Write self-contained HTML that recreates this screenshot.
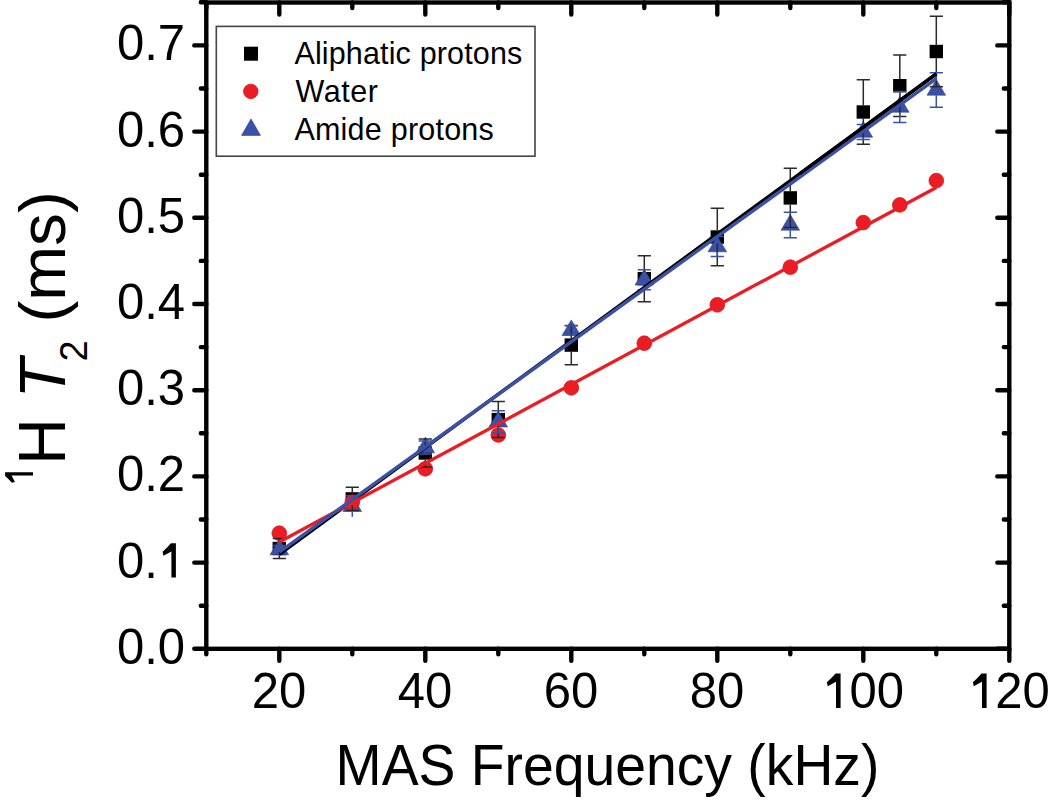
<!DOCTYPE html>
<html><head><meta charset="utf-8"><title>1H T2 vs MAS frequency</title>
<style>html,body{margin:0;padding:0;background:#fff;width:1050px;height:803px;overflow:hidden}
body{position:relative;font-family:"Liberation Sans",sans-serif}</style></head>
<body>
<svg width="1050" height="803" viewBox="0 0 1050 803" style="position:absolute;left:0;top:0">
<rect x="272.60" y="541.80" width="13.4" height="13.4" fill="#000"/>
<rect x="345.60" y="492.20" width="13.4" height="13.4" fill="#000"/>
<rect x="418.60" y="446.30" width="13.4" height="13.4" fill="#000"/>
<rect x="491.60" y="412.90" width="13.4" height="13.4" fill="#000"/>
<rect x="564.60" y="338.40" width="13.4" height="13.4" fill="#000"/>
<rect x="637.60" y="272.00" width="13.4" height="13.4" fill="#000"/>
<rect x="710.60" y="230.30" width="13.4" height="13.4" fill="#000"/>
<rect x="783.60" y="191.20" width="13.4" height="13.4" fill="#000"/>
<rect x="856.60" y="105.30" width="13.4" height="13.4" fill="#000"/>
<rect x="893.10" y="79.00" width="13.4" height="13.4" fill="#000"/>
<rect x="929.60" y="44.80" width="13.4" height="13.4" fill="#000"/>
<polygon points="279.30,539.20 288.60,554.80 270.00,554.80" fill="#3b51a6" stroke="#2c3f8f" stroke-width="0.6"/>
<polygon points="352.30,495.90 361.60,511.50 343.00,511.50" fill="#3b51a6" stroke="#2c3f8f" stroke-width="0.6"/>
<polygon points="425.30,437.20 434.60,452.80 416.00,452.80" fill="#3b51a6" stroke="#2c3f8f" stroke-width="0.6"/>
<polygon points="498.30,411.40 507.60,427.00 489.00,427.00" fill="#3b51a6" stroke="#2c3f8f" stroke-width="0.6"/>
<polygon points="571.30,319.90 580.60,335.50 562.00,335.50" fill="#3b51a6" stroke="#2c3f8f" stroke-width="0.6"/>
<polygon points="644.30,269.40 653.60,285.00 635.00,285.00" fill="#3b51a6" stroke="#2c3f8f" stroke-width="0.6"/>
<polygon points="717.30,236.20 726.60,251.80 708.00,251.80" fill="#3b51a6" stroke="#2c3f8f" stroke-width="0.6"/>
<polygon points="790.30,214.60 799.60,230.20 781.00,230.20" fill="#3b51a6" stroke="#2c3f8f" stroke-width="0.6"/>
<polygon points="863.30,121.60 872.60,137.20 854.00,137.20" fill="#3b51a6" stroke="#2c3f8f" stroke-width="0.6"/>
<polygon points="899.80,96.60 909.10,112.20 890.50,112.20" fill="#3b51a6" stroke="#2c3f8f" stroke-width="0.6"/>
<polygon points="936.30,79.60 945.60,95.20 927.00,95.20" fill="#3b51a6" stroke="#2c3f8f" stroke-width="0.6"/>
<circle cx="279.30" cy="533.20" r="7.35" fill="#ec1c24" stroke="#d2161e" stroke-width="0.8"/>
<circle cx="352.30" cy="502.10" r="7.35" fill="#ec1c24" stroke="#d2161e" stroke-width="0.8"/>
<circle cx="425.30" cy="468.80" r="7.35" fill="#ec1c24" stroke="#d2161e" stroke-width="0.8"/>
<circle cx="498.30" cy="435.00" r="7.35" fill="#ec1c24" stroke="#d2161e" stroke-width="0.8"/>
<circle cx="571.30" cy="387.80" r="7.35" fill="#ec1c24" stroke="#d2161e" stroke-width="0.8"/>
<circle cx="644.30" cy="343.20" r="7.35" fill="#ec1c24" stroke="#d2161e" stroke-width="0.8"/>
<circle cx="717.30" cy="304.80" r="7.35" fill="#ec1c24" stroke="#d2161e" stroke-width="0.8"/>
<circle cx="790.30" cy="267.20" r="7.35" fill="#ec1c24" stroke="#d2161e" stroke-width="0.8"/>
<circle cx="863.30" cy="222.60" r="7.35" fill="#ec1c24" stroke="#d2161e" stroke-width="0.8"/>
<circle cx="899.80" cy="204.90" r="7.35" fill="#ec1c24" stroke="#d2161e" stroke-width="0.8"/>
<circle cx="936.30" cy="180.60" r="7.35" fill="#ec1c24" stroke="#d2161e" stroke-width="0.8"/>
<path d="M272.70,538.50H285.90M272.70,558.50H285.90M279.30,541.80V538.50M279.30,555.20V558.50" stroke="#2a2a2a" stroke-width="1.5" fill="none"/>
<path d="M345.70,487.30H358.90M345.70,510.50H358.90M352.30,492.20V487.30M352.30,505.60V510.50" stroke="#2a2a2a" stroke-width="1.5" fill="none"/>
<path d="M418.70,439.00H431.90M418.70,467.00H431.90M425.30,446.30V439.00M425.30,459.70V467.00" stroke="#2a2a2a" stroke-width="1.5" fill="none"/>
<path d="M491.70,401.60H504.90M491.70,437.60H504.90M498.30,412.90V401.60M498.30,426.30V437.60" stroke="#2a2a2a" stroke-width="1.5" fill="none"/>
<path d="M564.70,325.40H577.90M564.70,364.80H577.90M571.30,338.40V325.40M571.30,351.80V364.80" stroke="#2a2a2a" stroke-width="1.5" fill="none"/>
<path d="M637.70,255.70H650.90M637.70,301.70H650.90M644.30,272.00V255.70M644.30,285.40V301.70" stroke="#2a2a2a" stroke-width="1.5" fill="none"/>
<path d="M710.70,208.30H723.90M710.70,265.70H723.90M717.30,230.30V208.30M717.30,243.70V265.70" stroke="#2a2a2a" stroke-width="1.5" fill="none"/>
<path d="M783.70,168.30H796.90M783.70,227.50H796.90M790.30,191.20V168.30M790.30,204.60V227.50" stroke="#2a2a2a" stroke-width="1.5" fill="none"/>
<path d="M856.70,79.80H869.90M856.70,144.20H869.90M863.30,105.30V79.80M863.30,118.70V144.20" stroke="#2a2a2a" stroke-width="1.5" fill="none"/>
<path d="M893.20,55.00H906.40M893.20,116.40H906.40M899.80,79.00V55.00M899.80,92.40V116.40" stroke="#2a2a2a" stroke-width="1.5" fill="none"/>
<path d="M929.70,16.20H942.90M929.70,86.80H942.90M936.30,44.80V16.20M936.30,58.20V86.80" stroke="#2a2a2a" stroke-width="1.5" fill="none"/>
<path d="M272.70,545.60H285.90M272.70,553.60H285.90" stroke="#3b51a6" stroke-width="1.5" fill="none"/>
<path d="M345.70,495.80H358.90M352.30,495.90V495.80M352.30,511.50V516.80" stroke="#3b51a6" stroke-width="1.5" fill="none"/>
<path d="M418.70,441.10H431.90M418.70,454.10H431.90M425.30,452.80V454.10" stroke="#3b51a6" stroke-width="1.5" fill="none"/>
<path d="M491.70,410.80H504.90M491.70,432.80H504.90M498.30,411.40V410.80M498.30,427.00V432.80" stroke="#3b51a6" stroke-width="1.5" fill="none"/>
<path d="M564.70,325.80H577.90M564.70,334.80H577.90" stroke="#3b51a6" stroke-width="1.5" fill="none"/>
<path d="M637.70,269.80H650.90M637.70,289.80H650.90M644.30,285.00V289.80" stroke="#3b51a6" stroke-width="1.5" fill="none"/>
<path d="M710.70,236.60H723.90M710.70,256.60H723.90M717.30,251.80V256.60" stroke="#3b51a6" stroke-width="1.5" fill="none"/>
<path d="M783.70,212.20H796.90M783.70,237.80H796.90M790.30,214.60V212.20M790.30,230.20V237.80" stroke="#3b51a6" stroke-width="1.5" fill="none"/>
<path d="M856.70,124.40H869.90M856.70,139.60H869.90M863.30,137.20V139.60" stroke="#3b51a6" stroke-width="1.5" fill="none"/>
<path d="M893.20,91.50H906.40M893.20,122.50H906.40M899.80,96.60V91.50M899.80,112.20V122.50" stroke="#3b51a6" stroke-width="1.5" fill="none"/>
<path d="M929.70,72.70H942.90M929.70,107.30H942.90M936.30,79.60V72.70M936.30,95.20V107.30" stroke="#3b51a6" stroke-width="1.5" fill="none"/>
<line x1="279.30" y1="554.4" x2="936.30" y2="73.8" stroke="#000" stroke-width="3.4"/>
<line x1="279.30" y1="542.0" x2="936.30" y2="187.5" stroke="#ec1c24" stroke-width="3.3"/>
<line x1="279.30" y1="552.1" x2="936.30" y2="78.7" stroke="#3b51a6" stroke-width="3.4"/>
<line x1="800.00" y1="173.50" x2="936.30" y2="73.80" stroke="#000" stroke-width="3.4"/>
<rect x="206.30" y="2.50" width="803.00" height="646.30" fill="none" stroke="#000" stroke-width="4.4"/>
<path d="M194.30,648.80H206.30M1009.30,648.80H997.30M200.80,605.70H206.30M1009.30,605.70H1003.80M194.30,562.60H206.30M1009.30,562.60H997.30M200.80,519.50H206.30M1009.30,519.50H1003.80M194.30,476.40H206.30M1009.30,476.40H997.30M200.80,433.30H206.30M1009.30,433.30H1003.80M194.30,390.20H206.30M1009.30,390.20H997.30M200.80,347.10H206.30M1009.30,347.10H1003.80M194.30,304.00H206.30M1009.30,304.00H997.30M200.80,260.90H206.30M1009.30,260.90H1003.80M194.30,217.80H206.30M1009.30,217.80H997.30M200.80,174.70H206.30M1009.30,174.70H1003.80M194.30,131.60H206.30M1009.30,131.60H997.30M200.80,88.50H206.30M1009.30,88.50H1003.80M194.30,45.40H206.30M1009.30,45.40H997.30M200.80,2.30H206.30M1009.30,2.30H1003.80M206.30,648.80V654.30M206.30,2.50V8.00M279.30,648.80V660.80M279.30,2.50V14.50M352.30,648.80V654.30M352.30,2.50V8.00M425.30,648.80V660.80M425.30,2.50V14.50M498.30,648.80V654.30M498.30,2.50V8.00M571.30,648.80V660.80M571.30,2.50V14.50M644.30,648.80V654.30M644.30,2.50V8.00M717.30,648.80V660.80M717.30,2.50V14.50M790.30,648.80V654.30M790.30,2.50V8.00M863.30,648.80V660.80M863.30,2.50V14.50M936.30,648.80V654.30M936.30,2.50V8.00M1009.30,648.80V660.80M1009.30,2.50V14.50" stroke="#000" stroke-width="4.4" stroke-linecap="round" fill="none"/>
<text transform="translate(185,663.80) scale(1,1.02)" font-family="Liberation Sans, sans-serif" font-size="49" text-anchor="end">0.0</text>
<text transform="translate(116.9,577.60) scale(1,1.02)" font-family="Liberation Sans, sans-serif" font-size="49">0.</text>
<path transform="translate(175.90,543.20)" d="M0,0V34.40H-4.50V8.20L-12.50,12.50L-13.30,8.60Q-9.30,5.00 -4.90,0Z" fill="#000"/>
<text transform="translate(185,491.40) scale(1,1.02)" font-family="Liberation Sans, sans-serif" font-size="49" text-anchor="end">0.2</text>
<text transform="translate(185,405.20) scale(1,1.02)" font-family="Liberation Sans, sans-serif" font-size="49" text-anchor="end">0.3</text>
<text transform="translate(185,319.00) scale(1,1.02)" font-family="Liberation Sans, sans-serif" font-size="49" text-anchor="end">0.4</text>
<text transform="translate(185,232.80) scale(1,1.02)" font-family="Liberation Sans, sans-serif" font-size="49" text-anchor="end">0.5</text>
<text transform="translate(185,146.60) scale(1,1.02)" font-family="Liberation Sans, sans-serif" font-size="49" text-anchor="end">0.6</text>
<text transform="translate(185,60.40) scale(1,1.02)" font-family="Liberation Sans, sans-serif" font-size="49" text-anchor="end">0.7</text>
<text transform="translate(279.00,708) scale(1,1.02)" font-family="Liberation Sans, sans-serif" font-size="49" text-anchor="middle">20</text>
<text transform="translate(425.00,708) scale(1,1.02)" font-family="Liberation Sans, sans-serif" font-size="49" text-anchor="middle">40</text>
<text transform="translate(571.00,708) scale(1,1.02)" font-family="Liberation Sans, sans-serif" font-size="49" text-anchor="middle">60</text>
<text transform="translate(717.00,708) scale(1,1.02)" font-family="Liberation Sans, sans-serif" font-size="49" text-anchor="middle">80</text>
<text transform="translate(849.4,708) scale(1,1.02)" font-family="Liberation Sans, sans-serif" font-size="49">00</text>
<path transform="translate(840.60,673.40)" d="M0,0V34.60H-4.60V8.45L-12.88,12.88L-13.70,8.86Q-9.58,5.15 -5.05,0Z" fill="#000"/>
<text transform="translate(995.3,708) scale(1,1.02)" font-family="Liberation Sans, sans-serif" font-size="49">20</text>
<path transform="translate(986.60,673.40)" d="M0,0V34.60H-4.60V8.45L-12.88,12.88L-13.70,8.86Q-9.58,5.15 -5.05,0Z" fill="#000"/>
<text transform="translate(335.6,785.2) scale(1,1.04)" font-family="Liberation Sans, sans-serif" font-size="55.3">MAS Frequency (kHz)</text>
<g transform="translate(64.6,482.5) rotate(-90)"><text transform="translate(17.7,0) scale(0.96,1)" font-family="Liberation Sans, sans-serif" font-size="67">H</text><text x="84" y="0" font-family="Liberation Sans, sans-serif" font-size="65.5" font-style="italic">T</text><text x="121" y="22.3" font-family="Liberation Sans, sans-serif" font-size="38">2</text><text x="160" y="0" font-family="Liberation Sans, sans-serif" font-size="65.7">(ms)</text></g>
<g transform="translate(5.1,472.2) rotate(-90)"><path d="M0,0V27.90H-3.40V6.48L-9.88,9.88L-10.51,6.79Q-7.35,3.95 -3.87,0Z" fill="#000"/></g>
<rect x="216.3" y="26.4" width="318.7" height="129.8" fill="#fff" stroke="#444" stroke-width="1.6"/>
<rect x="244.00" y="46.70" width="14" height="14" fill="#000"/>
<circle cx="250.8" cy="91.4" r="7.25" fill="#ec1c24" stroke="#d2161e" stroke-width="0.8"/>
<polygon points="251,118.9 260.5,135.4 241.5,135.4" fill="#3b51a6" stroke="#2c3f8f" stroke-width="0.6"/>
<text x="294.4" y="63.8" font-family="Liberation Sans, sans-serif" font-size="30.5" letter-spacing="0.15">Aliphatic protons</text>
<text x="295.6" y="101.7" font-family="Liberation Sans, sans-serif" font-size="30.5" letter-spacing="0.5">Water</text>
<text x="294.4" y="139.8" font-family="Liberation Sans, sans-serif" font-size="30.5" letter-spacing="0.23">Amide protons</text>
</svg>
</body></html>
